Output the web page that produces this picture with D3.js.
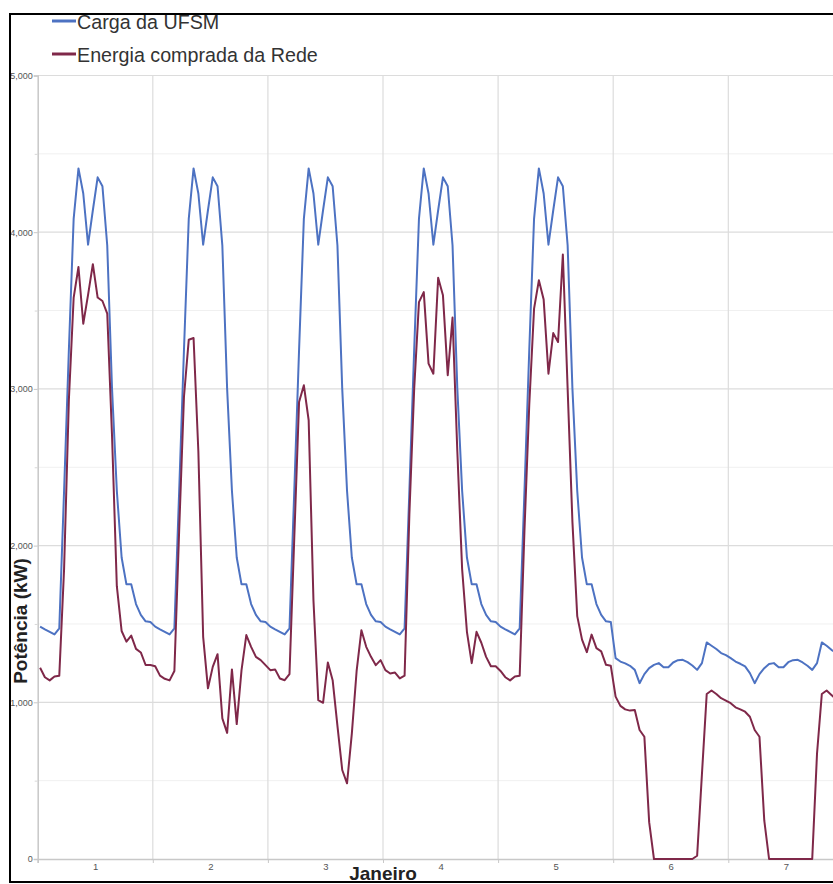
<!DOCTYPE html>
<html>
<head>
<meta charset="utf-8">
<script src="https://cdn.jsdelivr.net/npm/d3@7"></script>
<style>
  html, body { margin: 0; padding: 0; background: #fff; }
  svg { display: block; font-family: "Liberation Sans", Arial, sans-serif; }
</style>
</head>
<body>
<svg id="chart" width="833" height="884"></svg>
<script>
// Hourly power (kW) over one week of January, 24 readings per day.
const days = ["1", "2", "3", "4", "5", "6", "7"];
const yTicks = [0, 1000, 2000, 3000, 4000, 5000];
const yMinorTicks = [500, 1500, 2500, 3500, 4500];

const seriesNames = ["Carga da UFSM", "Energia comprada da Rede"];
const seriesColors = ["#4d72c2", "#7f2849"];

// Total campus load
const cargaUFSM = [
  // day 1
  1483, 1466, 1450, 1433, 1471, 2350, 3250, 4087, 4407, 4247, 3920, 4140,
  4350, 4293, 3915, 3000, 2350, 1924, 1753, 1753, 1627, 1558, 1517, 1513,
  // day 2
  1483, 1466, 1450, 1433, 1471, 2350, 3250, 4087, 4407, 4247, 3920, 4140,
  4350, 4293, 3915, 3000, 2350, 1924, 1753, 1753, 1627, 1558, 1517, 1513,
  // day 3
  1483, 1466, 1450, 1433, 1471, 2350, 3250, 4087, 4407, 4247, 3920, 4140,
  4350, 4293, 3915, 3000, 2350, 1924, 1753, 1753, 1627, 1558, 1517, 1513,
  // day 4
  1483, 1466, 1450, 1433, 1471, 2350, 3250, 4087, 4407, 4247, 3920, 4140,
  4350, 4293, 3915, 3000, 2350, 1924, 1753, 1753, 1627, 1558, 1517, 1513,
  // day 5
  1483, 1466, 1450, 1433, 1471, 2350, 3250, 4087, 4407, 4247, 3920, 4140,
  4350, 4293, 3915, 3000, 2350, 1924, 1753, 1753, 1627, 1558, 1517, 1513,
  // day 6
  1282, 1260, 1248, 1233, 1207, 1122, 1180, 1218, 1239, 1250, 1224, 1224,
  1254, 1269, 1271, 1256, 1235, 1207, 1250, 1382, 1361, 1340, 1314, 1301,
  // day 7
  1282, 1260, 1246, 1229, 1186, 1122, 1180, 1218, 1244, 1250, 1224, 1224,
  1256, 1269, 1271, 1254, 1233, 1207, 1250, 1382, 1361, 1335, 1314, 1300
];

// Energy bought from the grid
const energiaRede = [
  // day 1
  1220, 1160, 1140, 1165, 1170, 1850, 2930, 3583, 3778, 3416, 3600, 3796,
  3583, 3561, 3481, 2700, 1741, 1455, 1387, 1426, 1341, 1318, 1238, 1238,
  // day 2
  1230, 1170, 1150, 1140, 1200, 2100, 2950, 3314, 3325, 2600, 1418, 1089,
  1226, 1307, 897, 805, 1210, 861, 1205, 1429, 1354, 1290, 1269, 1237,
  // day 3
  1205, 1210, 1152, 1141, 1180, 2050, 2917, 3023, 2800, 1650, 1014, 997,
  1254, 1141, 850, 568, 483, 800, 1200, 1460, 1354, 1290, 1237, 1269,
  // day 4
  1205, 1184, 1190, 1152, 1170, 2200, 3000, 3554, 3618, 3161, 3097, 3709,
  3597, 3087, 3455, 2600, 1850, 1450, 1250, 1450, 1380, 1290, 1230, 1230,
  // day 5
  1200, 1160, 1140, 1165, 1170, 2100, 2900, 3512, 3693, 3570, 3097, 3356,
  3299, 3858, 3000, 2150, 1550, 1400, 1320, 1432, 1346, 1325, 1239, 1233,
  // day 6
  1036, 977, 955, 947, 951, 823, 780, 235, 0, 0, 0, 0,
  0, 0, 0, 0, 0, 21, 540, 1053, 1075, 1053, 1026, 1011,
  // day 7
  994, 968, 955, 940, 908, 823, 780, 246, 0, 0, 0, 0,
  0, 0, 0, 0, 0, 0, 673, 1053, 1075, 1047, 1020, 1000
];

const svg = d3.select("#chart");

// Plot geometry
const plotLeft = 37.7, plotRight = 843.4, plotTop = 75.5, plotBottom = 859;
const x = d3.scaleLinear().domain([0, days.length]).range([plotLeft, plotRight]);
const y = d3.scaleLinear().domain([0, 5000]).range([plotBottom, plotTop]);

// Reading k sits in the middle of its hour slot
const tOf = k => Math.floor(k / 24) + ((k % 24) + 0.5) / 24;

// Outer frame clips everything
const frame = { x: 10, y: 14, w: 1000, h: 868 };
const defs = svg.append("defs");
defs.append("clipPath").attr("id", "frameClip")
  .append("rect").attr("x", frame.x).attr("y", frame.y)
  .attr("width", frame.w).attr("height", frame.h);
defs.append("clipPath").attr("id", "plotClip")
  .append("rect").attr("x", plotLeft).attr("y", plotTop - 5)
  .attr("width", plotRight - plotLeft).attr("height", plotBottom - plotTop + 10);

const g = svg.append("g").attr("clip-path", "url(#frameClip)");

// Grid
const grid = g.append("g");
grid.selectAll("line.minor").data(yMinorTicks).join("line")
  .attr("class", "minor")
  .attr("x1", plotLeft).attr("x2", plotRight)
  .attr("y1", d => y(d)).attr("y2", d => y(d))
  .attr("stroke", "#f0f0f0").attr("stroke-width", 1);
grid.selectAll("line.major").data(yTicks.filter(d => d > 0)).join("line")
  .attr("class", "major")
  .attr("x1", plotLeft).attr("x2", plotRight)
  .attr("y1", d => y(d)).attr("y2", d => y(d))
  .attr("stroke", "#dcdcdc").attr("stroke-width", 1.2);
grid.selectAll("line.vert").data(d3.range(1, days.length + 1)).join("line")
  .attr("class", "vert")
  .attr("x1", d => x(d)).attr("x2", d => x(d))
  .attr("y1", plotTop).attr("y2", plotBottom)
  .attr("stroke", "#dcdcdc").attr("stroke-width", 1.2);

// Y axis
const yAxis = g.append("g").attr("transform", `translate(${plotLeft},0)`)
  .call(d3.axisLeft(y).tickValues(yTicks).tickSize(4).tickPadding(1).tickFormat(d3.format(",")));
yAxis.select(".domain").attr("stroke", "#c8c8c8").attr("stroke-width", 1.5);
yAxis.selectAll(".tick line").attr("stroke", "#c8c8c8");
yAxis.selectAll(".tick text").attr("fill", "#555").style("font-size", "9px")
  .style("font-family", "'Liberation Sans', Arial, sans-serif");
const yMinor = g.append("g").attr("transform", `translate(${plotLeft},0)`)
  .call(d3.axisLeft(y).tickValues(yMinorTicks).tickSize(3).tickFormat(""));
yMinor.select(".domain").remove();
yMinor.selectAll(".tick line").attr("stroke", "#d8d8d8");

// X axis: boundaries between days, labels centred in each day
const xAxis = g.append("g").attr("transform", `translate(0,${plotBottom})`)
  .call(d3.axisBottom(x).tickValues(d3.range(0, days.length + 1)).tickSize(4).tickFormat(""));
xAxis.select(".domain").attr("stroke", "#c8c8c8").attr("stroke-width", 1.5);
xAxis.selectAll(".tick line").attr("stroke", "#c8c8c8");
const xLabels = g.append("g").attr("transform", `translate(0,${plotBottom})`)
  .call(d3.axisBottom(x).tickValues(days.map((d, i) => i + 0.5)).tickSize(0).tickPadding(4)
    .tickFormat((d, i) => days[i]));
xLabels.select(".domain").remove();
xLabels.selectAll(".tick text").attr("fill", "#555").style("font-size", "9.5px")
  .style("font-family", "'Liberation Sans', Arial, sans-serif");

// Series lines
const line = d3.line().x((d, k) => x(tOf(k))).y(d => y(d));
const lines = g.append("g").attr("clip-path", "url(#plotClip)");
[cargaUFSM, energiaRede].forEach((s, i) => {
  lines.append("path").datum(s)
    .attr("d", line)
    .attr("fill", "none")
    .attr("stroke", seriesColors[i])
    .attr("stroke-width", 2)
    .attr("stroke-linejoin", "round");
});

// Legend
const legend = g.append("g");
seriesNames.forEach((name, i) => {
  const ly = 21 + i * 33;
  legend.append("line").attr("x1", 52).attr("x2", 76).attr("y1", ly).attr("y2", ly)
    .attr("stroke", seriesColors[i]).attr("stroke-width", 3);
  legend.append("text").attr("x", 77).attr("y", ly + 7.5)
    .attr("fill", "#333").style("font-size", "19.7px").text(name);
});

// Axis titles
g.append("text").attr("transform", "translate(27,621) rotate(-90)")
  .attr("text-anchor", "middle").attr("fill", "#222")
  .style("font-size", "19px").style("font-weight", "bold").text("Potência (kW)");
g.append("text").attr("x", 383).attr("y", 880)
  .attr("text-anchor", "middle").attr("fill", "#222")
  .style("font-size", "19px").style("font-weight", "bold").text("Janeiro");

// Frame border drawn last
svg.append("rect").attr("x", frame.x).attr("y", frame.y)
  .attr("width", frame.w).attr("height", frame.h)
  .attr("fill", "none").attr("stroke", "#000").attr("stroke-width", 2);
</script>
</body>
</html>
